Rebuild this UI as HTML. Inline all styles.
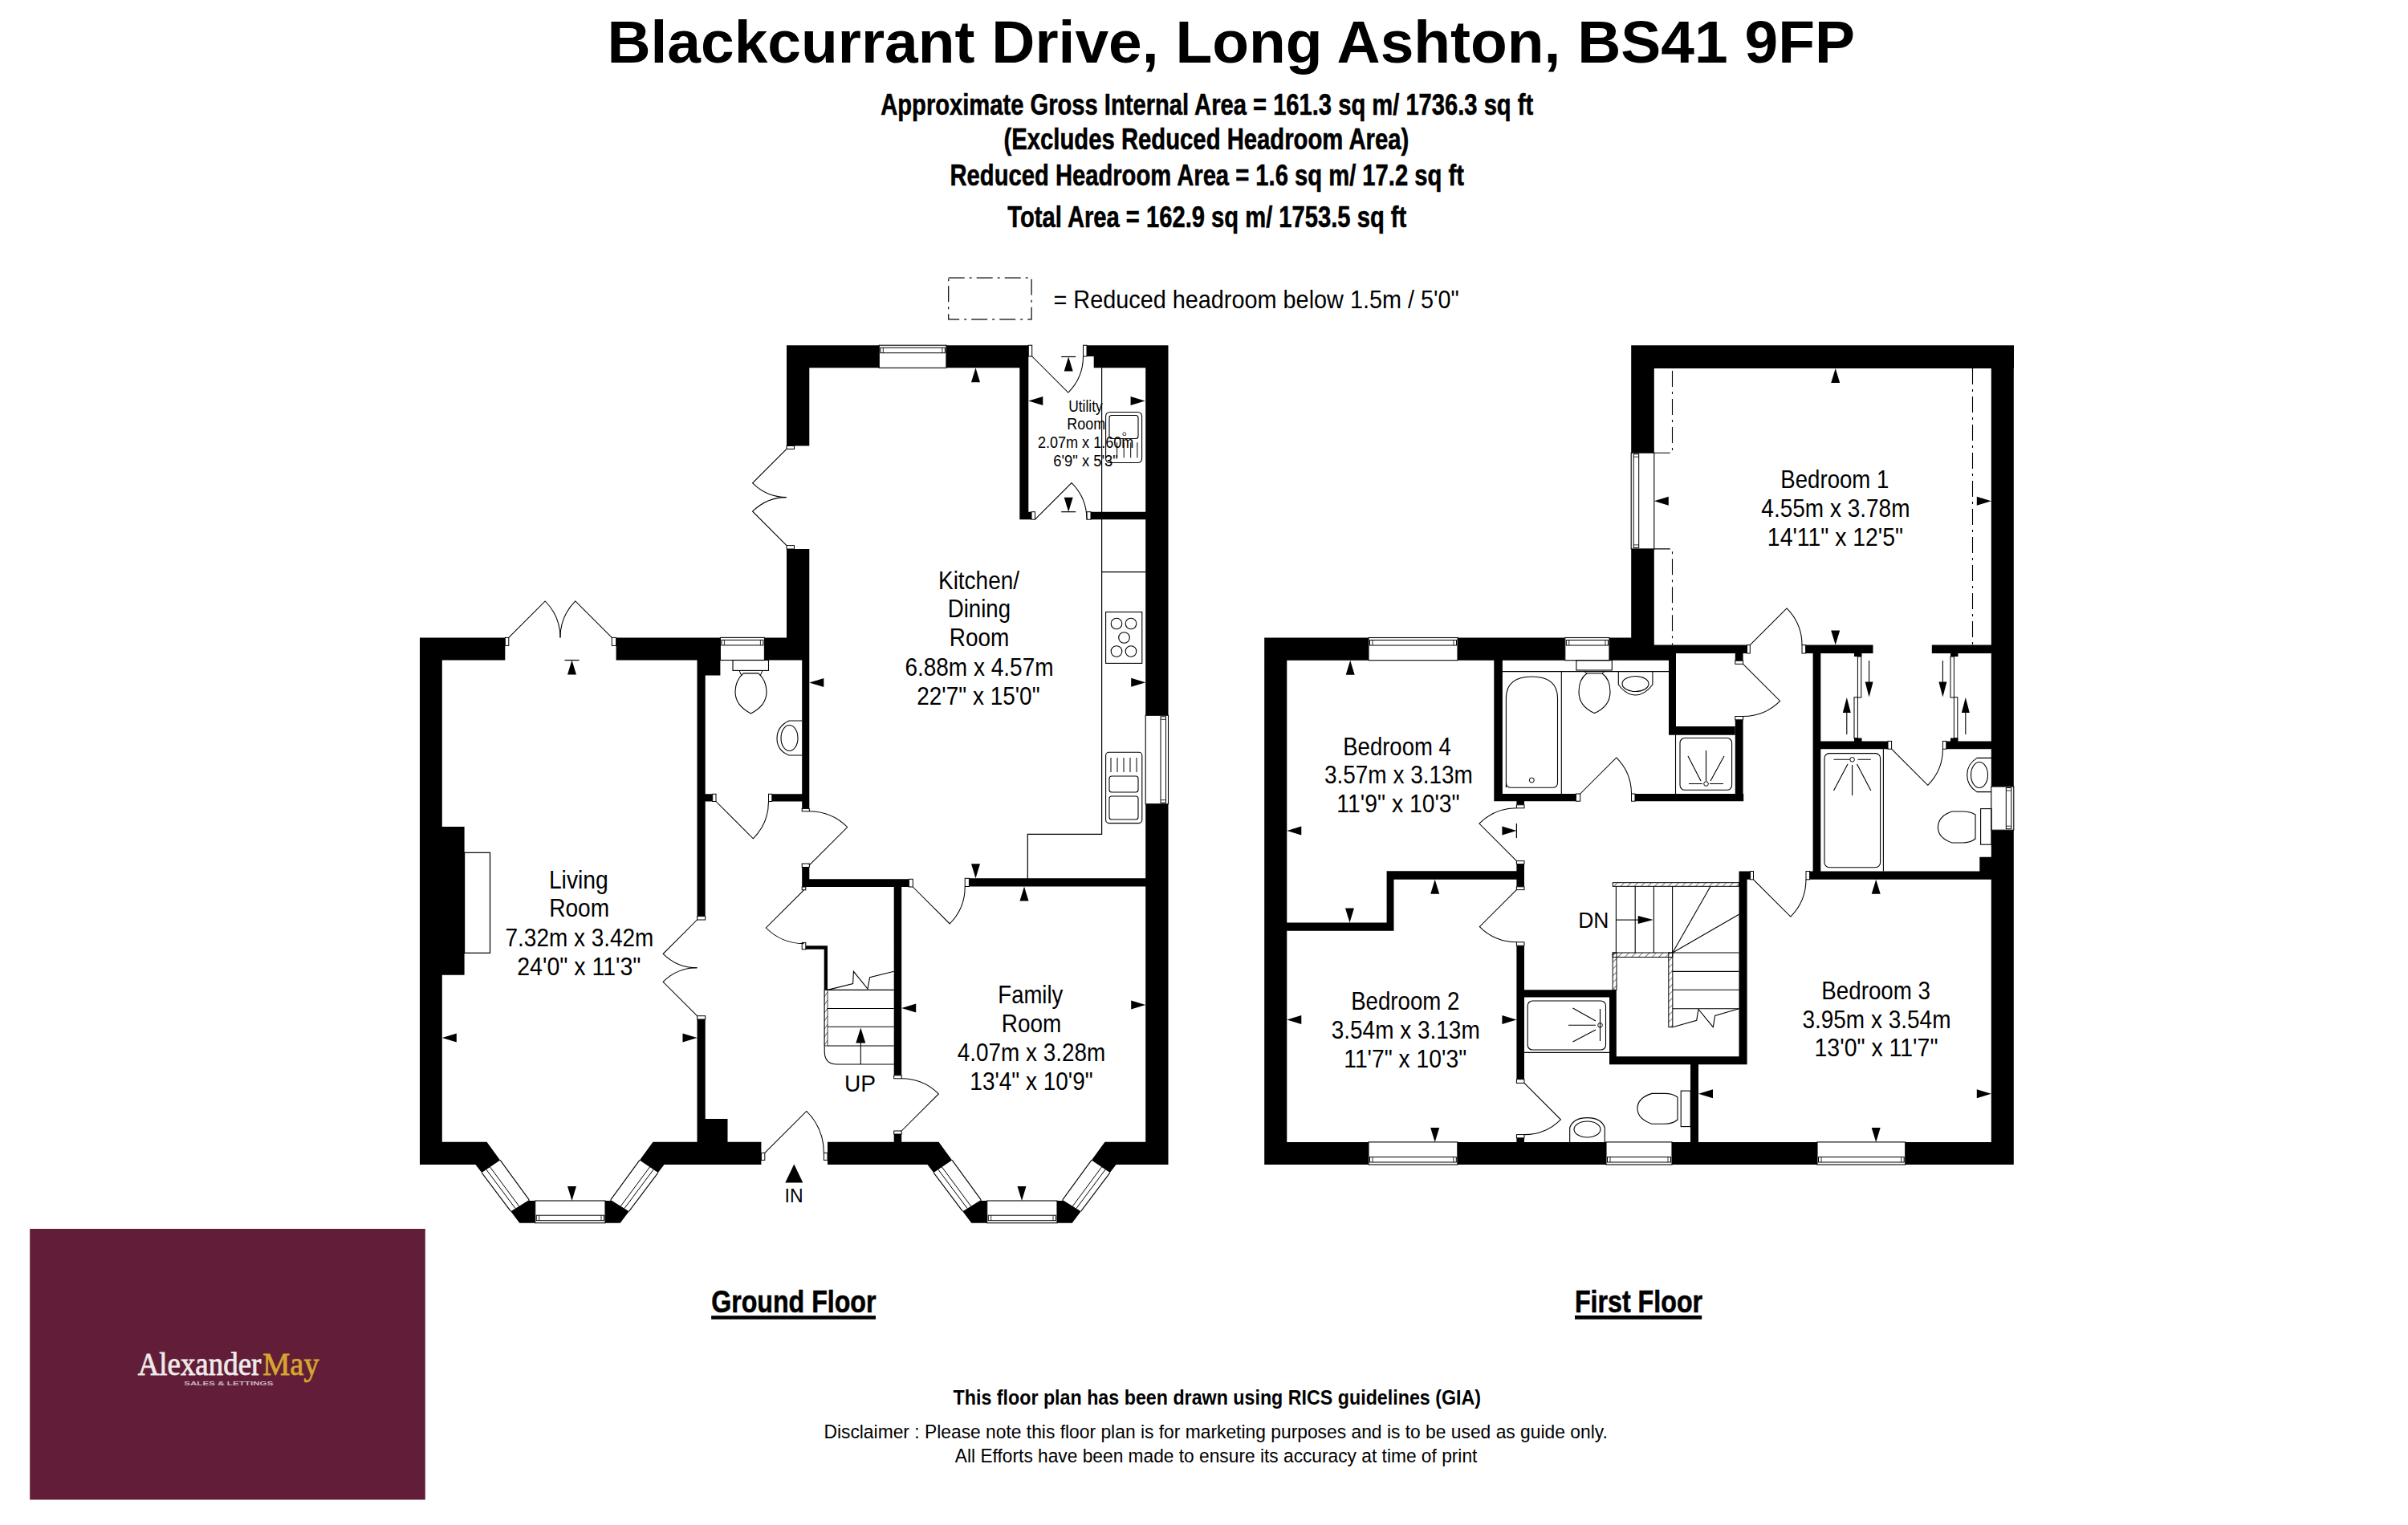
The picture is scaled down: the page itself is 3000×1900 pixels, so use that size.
<!DOCTYPE html>
<html><head><meta charset="utf-8"><style>
html,body{margin:0;padding:0;background:#fff;}
svg{display:block;}
</style></head><body>
<svg width="3000" height="1900" viewBox="0 0 3000 1900">
<rect width="3000" height="1900" fill="#fff"/>
<path fill="#000" d="M980.00,430.20H1095.30V458.30H980.00ZM1178.90,430.20H1281.30V458.30H1178.90ZM980.00,430.20H1008.30V555.50H980.00ZM980.00,684.00H1008.30V822.50H980.00ZM999.20,822.50H1008.30V1007.40H999.20ZM1270.30,444.00H1281.30V647.20H1270.30ZM1270.30,637.70H1285.00V647.20H1270.30ZM1354.00,430.20H1362.70V444.00H1354.00ZM1362.70,430.20H1455.50V458.30H1362.70ZM1427.20,430.20H1455.50V891.30H1427.20ZM1427.20,1001.70H1455.50V1450.90H1427.20ZM1359.00,637.70H1427.20V647.20H1359.00ZM523.00,794.40H629.30V822.50H523.00ZM767.60,794.40H897.40V822.50H767.60ZM952.40,794.40H1008.30V822.50H952.40ZM523.00,794.40H550.80V1450.90H523.00ZM550.80,1030.00H578.60V1214.80H550.80ZM868.50,822.50H878.70V1141.60H868.50ZM868.50,822.50H897.40V841.50H868.50ZM868.50,1270.00H878.70V1450.90H868.50ZM878.70,1394.00H906.50V1450.90H878.70ZM878.70,989.30H887.70V998.50H878.70ZM961.80,989.30H1008.30V998.50H961.80ZM999.20,1080.50H1008.30V1105.00H999.20ZM999.20,1095.30H1132.40V1105.00H999.20ZM1207.40,1094.30H1455.50V1104.50H1207.40ZM1113.70,1104.50H1123.20V1339.80H1113.70ZM1113.70,1413.00H1123.20V1450.90H1113.70ZM1004.00,1178.30H1031.00V1182.80H1004.00ZM1026.70,1178.30H1031.00V1233.40H1026.70ZM523.00,1422.70L606.50,1422.70L592.50,1450.90L523.00,1450.90ZM813.50,1422.70L948.40,1422.70L948.40,1450.90L827.50,1450.90ZM606.50,1422.70L623.09,1445.42L600.17,1461.09L592.50,1450.90ZM659.20,1494.90L660.00,1496.00L666.70,1496.00L666.70,1523.70L647.30,1523.70L636.34,1509.14ZM827.50,1450.90L819.83,1461.09L796.91,1445.42L813.50,1422.70ZM783.66,1509.14L772.70,1523.70L753.30,1523.70L753.30,1496.00L760.00,1496.00L760.80,1494.90ZM660.00,1496.00L666.70,1496.00L666.70,1523.70L647.30,1523.70ZM772.70,1523.70L754.00,1523.70L754.00,1496.00L760.00,1496.00ZM1031.00,1422.70L1169.50,1422.70L1155.50,1450.90L1031.00,1450.90ZM1376.50,1422.70L1455.50,1422.70L1455.50,1450.90L1390.50,1450.90ZM1169.50,1422.70L1186.09,1445.42L1163.17,1461.09L1155.50,1450.90ZM1222.20,1494.90L1223.00,1496.00L1229.70,1496.00L1229.70,1523.70L1210.30,1523.70L1199.34,1509.14ZM1390.50,1450.90L1382.83,1461.09L1359.91,1445.42L1376.50,1422.70ZM1346.66,1509.14L1335.70,1523.70L1316.30,1523.70L1316.30,1496.00L1323.00,1496.00L1323.80,1494.90ZM1223.00,1496.00L1229.70,1496.00L1229.70,1523.70L1210.30,1523.70ZM1335.70,1523.70L1317.00,1523.70L1317.00,1496.00L1323.00,1496.00ZM1078.30,1299.60L1066.30,1299.60L1072.30,1280.60ZM1221.00,476.30L1210.00,476.30L1215.50,458.30ZM1008.30,850.50L1026.30,845.00L1026.30,856.00ZM1409.20,855.80L1409.20,844.80L1427.20,850.30ZM1215.50,1094.30L1210.00,1076.30L1221.00,1076.30ZM1281.50,1122.50L1270.50,1122.50L1276.00,1104.50ZM1123.20,1256.00L1141.20,1250.50L1141.20,1261.50ZM1409.20,1257.50L1409.20,1246.50L1427.20,1252.00ZM1273.00,1496.00L1267.50,1478.00L1278.50,1478.00ZM718.00,840.50L707.00,840.50L712.50,822.50ZM712.50,1496.00L707.00,1478.00L718.00,1478.00ZM550.80,1293.00L568.80,1287.50L568.80,1298.50ZM850.50,1298.50L850.50,1287.50L868.50,1293.00ZM1336.70,462.50L1325.70,462.50L1331.20,444.50ZM1331.20,637.70L1325.70,619.70L1336.70,619.70ZM1281.30,499.60L1299.30,494.10L1299.30,505.10ZM1408.60,505.10L1408.60,494.10L1426.60,499.60ZM1000.30,1473.50L978.30,1473.50L989.30,1450.50ZM2032.20,430.20H2509.00V459.00H2032.20ZM2032.20,430.20H2060.80V564.20H2032.20ZM2032.20,683.90H2060.80V822.70H2032.20ZM2480.80,430.20H2508.80V980.00H2480.80ZM2480.80,1034.20H2508.80V1451.00H2480.80ZM2060.80,803.60H2176.50V814.00H2060.80ZM2249.60,803.60H2333.50V814.00H2249.60ZM2406.80,803.60H2481.00V814.00H2406.80ZM1575.20,794.50H1705.00V822.70H1575.20ZM1816.00,794.50H1949.80V822.70H1816.00ZM2005.00,794.50H2060.80V822.70H2005.00ZM2060.80,803.60H2088.00V822.70H2060.80ZM1575.20,794.50H1603.30V1451.00H1575.20ZM1861.30,822.70H1871.90V998.20H1861.30ZM1861.30,989.00H1963.40V998.20H1861.30ZM2037.00,989.00H2172.20V998.20H2037.00ZM2079.00,803.60H2088.00V915.70H2079.00ZM2079.00,904.90H2161.60V915.70H2079.00ZM2161.80,803.60H2171.60V823.20H2161.80ZM2161.80,896.80H2171.60V998.20H2161.80ZM1889.40,998.00H1899.00V1002.80H1889.40ZM1889.40,1076.60H1899.00V1104.80H1889.40ZM1889.40,1178.20H1899.00V1344.70H1889.40ZM1889.40,1417.80H1899.00V1451.00H1889.40ZM1603.30,1149.60H1736.50V1159.80H1603.30ZM1727.60,1085.20H1736.50V1159.80H1727.60ZM1727.60,1085.20H1889.40V1095.70H1727.60ZM1575.20,1422.90H1705.00V1451.00H1575.20ZM1815.80,1422.90H2001.00V1451.00H1815.80ZM2083.00,1422.90H2264.00V1451.00H2083.00ZM2373.70,1422.90H2508.80V1451.00H2373.70ZM1899.00,1233.30H2013.80V1242.50H1899.00ZM2005.00,1233.30H2013.80V1326.20H2005.00ZM2005.00,1316.20H2176.60V1326.20H2005.00ZM2166.50,1085.50H2176.60V1326.20H2166.50ZM2166.50,1085.50H2180.60V1095.80H2166.50ZM2254.60,1085.50H2481.00V1095.80H2254.60ZM2106.00,1326.20H2116.00V1423.00H2106.00ZM2258.60,814.00H2268.30V1095.00H2258.60ZM2268.30,923.40H2352.00V933.20H2268.30ZM2424.80,923.40H2481.00V933.20H2424.80ZM2466.30,1067.80H2481.00V1085.50H2466.30ZM2040.70,1151.10L2040.70,1141.10L2059.70,1146.10ZM2310.00,814.00H2319.50V818.00H2310.00ZM2310.00,919.40H2319.50V923.40H2310.00ZM2430.00,814.00H2439.50V818.00H2430.00ZM2430.00,919.40H2439.50V923.40H2430.00ZM2328.60,868.50L2323.60,849.50L2333.60,849.50ZM2305.80,888.00L2295.80,888.00L2300.80,869.00ZM2420.40,868.50L2415.40,849.50L2425.40,849.50ZM2453.80,888.00L2443.80,888.00L2448.80,869.00ZM2292.20,477.00L2281.20,477.00L2286.70,459.00ZM2286.70,803.60L2281.20,785.60L2292.20,785.60ZM2060.80,624.30L2078.80,618.80L2078.80,629.80ZM2462.80,629.80L2462.80,618.80L2480.80,624.30ZM1687.70,840.70L1676.70,840.70L1682.20,822.70ZM1681.50,1149.60L1676.00,1131.60L1687.00,1131.60ZM1603.30,1035.00L1621.30,1029.50L1621.30,1040.50ZM1871.40,1040.50L1871.40,1029.50L1889.40,1035.00ZM1793.20,1113.70L1782.20,1113.70L1787.70,1095.70ZM1787.70,1422.90L1782.20,1404.90L1793.20,1404.90ZM1603.30,1270.60L1621.30,1265.10L1621.30,1276.10ZM1871.40,1276.10L1871.40,1265.10L1889.40,1270.60ZM2342.70,1113.80L2331.70,1113.80L2337.20,1095.80ZM2337.20,1423.00L2331.70,1405.00L2342.70,1405.00ZM2116.00,1362.70L2134.00,1357.20L2134.00,1368.20ZM2462.80,1368.20L2462.80,1357.20L2480.80,1362.70ZM886.10,1639.20H1091.00V1643.70H886.10ZM1962.00,1639.10H2120.20V1643.80H1962.00Z"/>
<text x="756.40" y="77.80" font-family="Liberation Sans" font-size="74" font-weight="bold" fill="#000" textLength="1554.56" lengthAdjust="spacingAndGlyphs">Blackcurrant Drive, Long Ashton, BS41 9FP</text>
<text x="1097.28" y="143.00" font-family="Liberation Sans" font-size="37.5" font-weight="bold" fill="#000" stroke="#000" stroke-width="0.6" textLength="812.88" lengthAdjust="spacingAndGlyphs">Approximate Gross Internal Area = 161.3 sq m/ 1736.3 sq ft</text>
<text x="1250.55" y="186.40" font-family="Liberation Sans" font-size="37.5" font-weight="bold" fill="#000" stroke="#000" stroke-width="0.6" textLength="504.71" lengthAdjust="spacingAndGlyphs">(Excludes Reduced Headroom Area)</text>
<text x="1183.55" y="231.20" font-family="Liberation Sans" font-size="37.5" font-weight="bold" fill="#000" stroke="#000" stroke-width="0.6" textLength="640.30" lengthAdjust="spacingAndGlyphs">Reduced Headroom Area = 1.6 sq m/ 17.2 sq ft</text>
<text x="1255.37" y="283.20" font-family="Liberation Sans" font-size="37.5" font-weight="bold" fill="#000" stroke="#000" stroke-width="0.6" textLength="496.88" lengthAdjust="spacingAndGlyphs">Total Area = 162.9 sq m/ 1753.5 sq ft</text>
<rect x="1181.7" y="346.1" width="103.4" height="51.7" fill="none" stroke="#000" stroke-width="1.2" stroke-dasharray="20,6,3,6"/>
<text x="1312.49" y="384.20" font-family="Liberation Sans" font-size="32" fill="#000" textLength="505.33" lengthAdjust="spacingAndGlyphs">= Reduced headroom below 1.5m / 5'0&quot;</text>
<rect x="1095.3" y="430.2" width="83.6" height="28.1" fill="#fff" stroke="#000" stroke-width="1.1"/>
<rect x="1096.8" y="433.2" width="80.6" height="6.5" fill="none" stroke="#000" stroke-width="1"/>
<path d="M1100.3,433.2 V439.7 M1173.9,433.2 V439.7" stroke="#000" stroke-width="0.8"/>
<rect x="1281.3" y="430.2" width="4.4" height="13.8" fill="#fff" stroke="#000" stroke-width="1"/>
<rect x="980.0" y="555.5" width="9.5" height="3.9" fill="#fff" stroke="#000" stroke-width="1"/>
<rect x="980.0" y="679.6" width="9.5" height="4.4" fill="#fff" stroke="#000" stroke-width="1"/>
<rect x="999.2" y="1007.4" width="9.1" height="3.4" fill="#fff" stroke="#000" stroke-width="1"/>
<rect x="1285.0" y="637.7" width="4.5" height="9.5" fill="#fff" stroke="#000" stroke-width="1"/>
<rect x="1349.5" y="430.2" width="4.5" height="13.8" fill="#fff" stroke="#000" stroke-width="1"/>
<rect x="1427.2" y="891.3" width="28.3" height="110.4" fill="#fff" stroke="#000" stroke-width="1.1"/>
<rect x="1446.0" y="892.8" width="6.5" height="107.4" fill="none" stroke="#000" stroke-width="1"/>
<path d="M1446.0,896.3 H1452.5 M1446.0,996.7 H1452.5" stroke="#000" stroke-width="0.8"/>
<rect x="1354.0" y="637.7" width="5.0" height="9.5" fill="#fff" stroke="#000" stroke-width="1"/>
<path d="M1372.6,458.3 L1372.6,1039.4 L1280.3,1039.4 L1280.3,1095.5" fill="none" stroke="#000" stroke-width="1.2"/>
<path d="M1372.6,712.7 L1427.2,712.7" fill="none" stroke="#000" stroke-width="1.2"/>
<rect x="629.3" y="794.4" width="4.5" height="10.0" fill="#fff" stroke="#000" stroke-width="1"/>
<rect x="762.3" y="794.4" width="5.3" height="10.0" fill="#fff" stroke="#000" stroke-width="1"/>
<rect x="897.4" y="794.4" width="55.0" height="28.1" fill="#fff" stroke="#000" stroke-width="1.1"/>
<rect x="898.9" y="797.4" width="52.0" height="6.5" fill="none" stroke="#000" stroke-width="1"/>
<path d="M902.4,797.4 V803.9 M947.4,797.4 V803.9" stroke="#000" stroke-width="0.8"/>
<rect x="578.6" y="1062.3" width="31.9" height="125" fill="none" stroke="#000" stroke-width="1.2"/>
<rect x="868.5" y="1141.6" width="10.2" height="4.4" fill="#fff" stroke="#000" stroke-width="1"/>
<rect x="868.5" y="1265.7" width="10.2" height="4.3" fill="#fff" stroke="#000" stroke-width="1"/>
<rect x="887.7" y="989.3" width="4.3" height="9.2" fill="#fff" stroke="#000" stroke-width="1"/>
<rect x="957.5" y="989.3" width="4.3" height="9.2" fill="#fff" stroke="#000" stroke-width="1"/>
<rect x="999.2" y="1076.0" width="9.1" height="4.5" fill="#fff" stroke="#000" stroke-width="1"/>
<rect x="1132.4" y="1095.3" width="4.9" height="9.7" fill="#fff" stroke="#000" stroke-width="1"/>
<rect x="1202.2" y="1094.3" width="5.2" height="10.2" fill="#fff" stroke="#000" stroke-width="1"/>
<rect x="1113.7" y="1339.8" width="9.5" height="4.0" fill="#fff" stroke="#000" stroke-width="1"/>
<rect x="1113.7" y="1409.0" width="9.5" height="4.0" fill="#fff" stroke="#000" stroke-width="1"/>
<rect x="999.2" y="1174.4" width="4.6" height="8.4" fill="#fff" stroke="#000" stroke-width="1"/>
<rect x="999.2" y="1105.0" width="4.6" height="3.8" fill="#fff" stroke="#000" stroke-width="1"/>
<path d="M623.1,1445.4 L659.2,1494.9" fill="none" stroke="#000" stroke-width="1.1"/>
<path d="M600.2,1461.1 L636.3,1509.1" fill="none" stroke="#000" stroke-width="1.1"/>
<path d="M605.9,1457.2 L642.1,1505.6" fill="none" stroke="#000" stroke-width="1.0"/>
<path d="M610.5,1454.0 L646.6,1502.7" fill="none" stroke="#000" stroke-width="1.0"/>
<path d="M796.9,1445.4 L760.8,1494.9" fill="none" stroke="#000" stroke-width="1.1"/>
<path d="M819.8,1461.1 L783.7,1509.1" fill="none" stroke="#000" stroke-width="1.1"/>
<path d="M814.1,1457.2 L777.9,1505.6" fill="none" stroke="#000" stroke-width="1.0"/>
<path d="M809.5,1454.0 L773.4,1502.7" fill="none" stroke="#000" stroke-width="1.0"/>
<rect x="666.7" y="1496.0" width="87.3" height="27.7" fill="#fff" stroke="#000" stroke-width="1.1"/>
<rect x="668.2" y="1514.2" width="84.3" height="6.5" fill="none" stroke="#000" stroke-width="1"/>
<path d="M671.7,1514.2 V1520.7 M749.0,1514.2 V1520.7" stroke="#000" stroke-width="0.8"/>
<rect x="948.4" y="1436.4" width="4.4" height="9.0" fill="#fff" stroke="#000" stroke-width="1"/>
<rect x="1026.4" y="1436.4" width="4.6" height="9.0" fill="#fff" stroke="#000" stroke-width="1"/>
<path d="M1186.1,1445.4 L1222.2,1494.9" fill="none" stroke="#000" stroke-width="1.1"/>
<path d="M1163.2,1461.1 L1199.3,1509.1" fill="none" stroke="#000" stroke-width="1.1"/>
<path d="M1168.9,1457.2 L1205.1,1505.6" fill="none" stroke="#000" stroke-width="1.0"/>
<path d="M1173.5,1454.0 L1209.6,1502.7" fill="none" stroke="#000" stroke-width="1.0"/>
<path d="M1359.9,1445.4 L1323.8,1494.9" fill="none" stroke="#000" stroke-width="1.1"/>
<path d="M1382.8,1461.1 L1346.7,1509.1" fill="none" stroke="#000" stroke-width="1.1"/>
<path d="M1377.1,1457.2 L1340.9,1505.6" fill="none" stroke="#000" stroke-width="1.0"/>
<path d="M1372.5,1454.0 L1336.4,1502.7" fill="none" stroke="#000" stroke-width="1.0"/>
<rect x="1229.7" y="1496.0" width="87.3" height="27.7" fill="#fff" stroke="#000" stroke-width="1.1"/>
<rect x="1231.2" y="1514.2" width="84.3" height="6.5" fill="none" stroke="#000" stroke-width="1"/>
<path d="M1234.7,1514.2 V1520.7 M1312.0,1514.2 V1520.7" stroke="#000" stroke-width="0.8"/>
<path d="M980.0,559.4 L937.6,601.8 A60.0,60.0 0 0 0 980.0,619.4" fill="none" stroke="#000" stroke-width="1.05"/>
<path d="M980.0,679.6 L937.6,637.2 A60.0,60.0 0 0 1 980.0,619.6" fill="none" stroke="#000" stroke-width="1.05"/>
<path d="M1285.7,444.0 L1330.8,489.1 A63.8,63.8 0 0 0 1349.5,444.0" fill="none" stroke="#000" stroke-width="1.05"/>
<path d="M1289.5,647.2 L1335.1,601.6 A64.5,64.5 0 0 1 1354.0,647.2" fill="none" stroke="#000" stroke-width="1.05"/>
<path d="M633.8,794.4 L679.2,749.0 A64.2,64.2 0 0 1 698.0,794.4" fill="none" stroke="#000" stroke-width="1.05"/>
<path d="M762.3,794.4 L716.8,748.9 A64.3,64.3 0 0 0 698.0,794.4" fill="none" stroke="#000" stroke-width="1.05"/>
<path d="M892.0,998.5 L938.3,1044.8 A65.5,65.5 0 0 0 957.5,998.5" fill="none" stroke="#000" stroke-width="1.05"/>
<path d="M1008.3,1077.9 L1055.7,1030.5 A67.1,67.1 0 0 0 1008.3,1010.8" fill="none" stroke="#000" stroke-width="1.05"/>
<path d="M1001.5,1108.8 L954.3,1156.0 A66.8,66.8 0 0 0 1001.5,1175.6" fill="none" stroke="#000" stroke-width="1.05"/>
<path d="M1137.3,1105.0 L1183.2,1150.9 A64.9,64.9 0 0 0 1202.2,1105.0" fill="none" stroke="#000" stroke-width="1.05"/>
<path d="M868.5,1146.0 L826.2,1188.3 A59.8,59.8 0 0 0 868.5,1205.8" fill="none" stroke="#000" stroke-width="1.05"/>
<path d="M868.5,1265.7 L826.1,1223.3 A59.9,59.9 0 0 1 868.5,1205.8" fill="none" stroke="#000" stroke-width="1.05"/>
<path d="M1123.2,1409.0 L1169.3,1362.9 A65.2,65.2 0 0 0 1123.2,1343.8" fill="none" stroke="#000" stroke-width="1.05"/>
<path d="M952.8,1436.4 L1004.8,1384.4 A73.6,73.6 0 0 1 1026.4,1436.4" fill="none" stroke="#000" stroke-width="1.05"/>
<path d="M1031.0,1233.4 L1113.7,1233.4" fill="none" stroke="#000" stroke-width="1.1"/>
<path d="M1031.0,1256.5 L1113.7,1256.5" fill="none" stroke="#000" stroke-width="1.1"/>
<path d="M1031.0,1279.3 L1113.7,1279.3" fill="none" stroke="#000" stroke-width="1.1"/>
<path d="M1031.0,1303.0 L1113.7,1303.0" fill="none" stroke="#000" stroke-width="1.1"/>
<path d="M1027.2,1233.4 V1310 Q1027.2,1326 1043,1326 H1113.7" fill="none" stroke="#000" stroke-width="1.1"/>
<rect x="1027.2" y="1233.4" width="3.8" height="69.6" fill="#fff" stroke="#000" stroke-width="0.8"/>
<path d="M1027.2,1242.0 L1031.0,1236.0" fill="none" stroke="#000" stroke-width="0.6"/>
<path d="M1027.2,1252.0 L1031.0,1246.0" fill="none" stroke="#000" stroke-width="0.6"/>
<path d="M1027.2,1262.0 L1031.0,1256.0" fill="none" stroke="#000" stroke-width="0.6"/>
<path d="M1027.2,1272.0 L1031.0,1266.0" fill="none" stroke="#000" stroke-width="0.6"/>
<path d="M1027.2,1282.0 L1031.0,1276.0" fill="none" stroke="#000" stroke-width="0.6"/>
<path d="M1027.2,1292.0 L1031.0,1286.0" fill="none" stroke="#000" stroke-width="0.6"/>
<path d="M1027.2,1302.0 L1031.0,1296.0" fill="none" stroke="#000" stroke-width="0.6"/>
<path d="M1072.3,1326.0 L1072.3,1296.0" fill="none" stroke="#000" stroke-width="1.1"/>
<path d="M1031.0,1233.4 L1062.6,1225.5 L1063.4,1210.3 L1081.0,1232.0 L1083.6,1217.7 L1113.7,1210.3" fill="none" stroke="#000" stroke-width="1.1"/>
<rect x="913" y="822.5" width="44.5" height="12.9" fill="none" stroke="#000" stroke-width="1.1"/>
<path d="M921,835.4 L924,842 M950,835.4 L947,842" fill="none" stroke="#000" stroke-width="1"/>
<path d="M926,838.9 H945 Q955,848 955,862 Q955,879 935.5,888.9 Q916,879 916,862 Q916,848 926,838.9 Z" fill="none" stroke="#000" stroke-width="1.1"/>
<path d="M999,898 H983 Q968,905 968,920 Q968,935 983,941 H999" fill="none" stroke="#000" stroke-width="1.1"/>
<ellipse cx="983.5" cy="919.5" rx="10.5" ry="16" fill="none" stroke="#000" stroke-width="1.1"/>
<rect x="1377.6" y="762.5" width="45.2" height="63.9" fill="none" stroke="#000" stroke-width="1.1"/>
<circle cx="1391" cy="777" r="6.8" fill="none" stroke="#000" stroke-width="1.1"/>
<circle cx="1409" cy="777" r="6.8" fill="none" stroke="#000" stroke-width="1.1"/>
<circle cx="1400.5" cy="794.5" r="6.8" fill="none" stroke="#000" stroke-width="1.1"/>
<circle cx="1391" cy="811.5" r="6.8" fill="none" stroke="#000" stroke-width="1.1"/>
<circle cx="1409" cy="811.5" r="6.8" fill="none" stroke="#000" stroke-width="1.1"/>
<rect x="1377.6" y="937.2" width="45.2" height="88.4" rx="4" fill="none" stroke="#000" stroke-width="1.1"/>
<path d="M1384.0,944.0 L1384.0,962.0" fill="none" stroke="#000" stroke-width="1.0"/>
<path d="M1392.0,944.0 L1392.0,962.0" fill="none" stroke="#000" stroke-width="1.0"/>
<path d="M1400.0,944.0 L1400.0,962.0" fill="none" stroke="#000" stroke-width="1.0"/>
<path d="M1408.0,944.0 L1408.0,962.0" fill="none" stroke="#000" stroke-width="1.0"/>
<path d="M1416.0,944.0 L1416.0,962.0" fill="none" stroke="#000" stroke-width="1.0"/>
<rect x="1382" y="967" width="36" height="20" rx="3" fill="none" stroke="#000" stroke-width="1.1"/>
<rect x="1382" y="992" width="36" height="29" rx="3" fill="none" stroke="#000" stroke-width="1.1"/>
<rect x="1377.6" y="513.5" width="45" height="63" rx="5" fill="none" stroke="#000" stroke-width="1.1"/>
<rect x="1382" y="517.5" width="36" height="29" rx="3" fill="none" stroke="#000" stroke-width="1.1"/>
<path d="M1391.6,551.3 L1391.6,570.3" fill="none" stroke="#000" stroke-width="1.0"/>
<path d="M1400.2,551.3 L1400.2,570.3" fill="none" stroke="#000" stroke-width="1.0"/>
<path d="M1408.7,551.3 L1408.7,570.3" fill="none" stroke="#000" stroke-width="1.0"/>
<path d="M1416.9,551.3 L1416.9,570.3" fill="none" stroke="#000" stroke-width="1.0"/>
<circle cx="1400.8" cy="540.8" r="2" fill="none" stroke="#000" stroke-width="0.8"/>
<path d="M703.5,822.5 L721.5,822.5" fill="none" stroke="#000" stroke-width="1.2"/>
<path d="M1322.2,444.5 L1340.2,444.5" fill="none" stroke="#000" stroke-width="1.2"/>
<path d="M1322.2,637.7 L1340.2,637.7" fill="none" stroke="#000" stroke-width="1.2"/>
<text x="683.88" y="1107.20" font-family="Liberation Sans" font-size="32" fill="#000" textLength="73.95" lengthAdjust="spacingAndGlyphs">Living</text>
<text x="684.19" y="1142.40" font-family="Liberation Sans" font-size="32" fill="#000" textLength="74.96" lengthAdjust="spacingAndGlyphs">Room</text>
<text x="629.57" y="1178.90" font-family="Liberation Sans" font-size="32" fill="#000" textLength="184.77" lengthAdjust="spacingAndGlyphs">7.32m x 3.42m</text>
<text x="644.29" y="1214.60" font-family="Liberation Sans" font-size="32" fill="#000" textLength="154.11" lengthAdjust="spacingAndGlyphs">24'0&quot; x 11'3&quot;</text>
<text x="1169.01" y="734.00" font-family="Liberation Sans" font-size="32" fill="#000" textLength="100.99" lengthAdjust="spacingAndGlyphs">Kitchen/</text>
<text x="1180.74" y="769.40" font-family="Liberation Sans" font-size="32" fill="#000" textLength="78.24" lengthAdjust="spacingAndGlyphs">Dining</text>
<text x="1182.70" y="804.80" font-family="Liberation Sans" font-size="32" fill="#000" textLength="74.64" lengthAdjust="spacingAndGlyphs">Room</text>
<text x="1127.38" y="841.60" font-family="Liberation Sans" font-size="32" fill="#000" textLength="185.17" lengthAdjust="spacingAndGlyphs">6.88m x 4.57m</text>
<text x="1142.29" y="877.50" font-family="Liberation Sans" font-size="32" fill="#000" textLength="153.29" lengthAdjust="spacingAndGlyphs">22'7&quot; x 15'0&quot;</text>
<text x="1243.34" y="1249.90" font-family="Liberation Sans" font-size="32" fill="#000" textLength="81.01" lengthAdjust="spacingAndGlyphs">Family</text>
<text x="1247.71" y="1286.40" font-family="Liberation Sans" font-size="32" fill="#000" textLength="74.53" lengthAdjust="spacingAndGlyphs">Room</text>
<text x="1192.76" y="1322.00" font-family="Liberation Sans" font-size="32" fill="#000" textLength="184.38" lengthAdjust="spacingAndGlyphs">4.07m x 3.28m</text>
<text x="1208.37" y="1358.30" font-family="Liberation Sans" font-size="32" fill="#000" textLength="153.32" lengthAdjust="spacingAndGlyphs">13'4&quot; x 10'9&quot;</text>
<text x="1331.26" y="513.40" font-family="Liberation Sans" font-size="20" fill="#000" textLength="42.47" lengthAdjust="spacingAndGlyphs">Utility</text>
<text x="1329.33" y="535.40" font-family="Liberation Sans" font-size="20" fill="#000" textLength="47.85" lengthAdjust="spacingAndGlyphs">Room</text>
<text x="1292.89" y="558.00" font-family="Liberation Sans" font-size="20" fill="#000" textLength="119.50" lengthAdjust="spacingAndGlyphs">2.07m x 1.60m</text>
<text x="1312.37" y="580.50" font-family="Liberation Sans" font-size="20" fill="#000" textLength="80.42" lengthAdjust="spacingAndGlyphs">6'9&quot; x 5'3&quot;</text>
<text x="1052.03" y="1360.00" font-family="Liberation Sans" font-size="29.5" fill="#000" textLength="39.05" lengthAdjust="spacingAndGlyphs">UP</text>
<text x="977.58" y="1497.70" font-family="Liberation Sans" font-size="24" fill="#000" textLength="23.00" lengthAdjust="spacingAndGlyphs">IN</text>
<rect x="2032.2" y="564.2" width="28.6" height="119.7" fill="#fff" stroke="#000" stroke-width="1.1"/>
<rect x="2035.2" y="565.7" width="6.5" height="116.7" fill="none" stroke="#000" stroke-width="1"/>
<path d="M2035.2,569.2 H2041.7 M2035.2,678.9 H2041.7" stroke="#000" stroke-width="0.8"/>
<rect x="2480.8" y="980.0" width="28.0" height="54.2" fill="#fff" stroke="#000" stroke-width="1.1"/>
<rect x="2499.3" y="981.5" width="6.5" height="51.2" fill="none" stroke="#000" stroke-width="1"/>
<path d="M2499.3,985.0 H2505.8 M2499.3,1029.2 H2505.8" stroke="#000" stroke-width="0.8"/>
<rect x="2176.5" y="803.6" width="3.8" height="10.4" fill="#fff" stroke="#000" stroke-width="1"/>
<rect x="2245.0" y="803.6" width="4.6" height="10.4" fill="#fff" stroke="#000" stroke-width="1"/>
<path d="M2060.8,564.2 H2083.5 V459 M2060.8,683.9 H2083.5 V803.6 M2457.5,459 V803.6" fill="none" stroke="#000" stroke-width="1.1" stroke-dasharray="20,6,3,6"/>
<rect x="1705.0" y="794.5" width="111.0" height="28.2" fill="#fff" stroke="#000" stroke-width="1.1"/>
<rect x="1706.5" y="797.5" width="108.0" height="6.5" fill="none" stroke="#000" stroke-width="1"/>
<path d="M1710.0,797.5 V804.0 M1811.0,797.5 V804.0" stroke="#000" stroke-width="0.8"/>
<rect x="1949.8" y="794.5" width="55.2" height="28.2" fill="#fff" stroke="#000" stroke-width="1.1"/>
<rect x="1951.3" y="797.5" width="52.2" height="6.5" fill="none" stroke="#000" stroke-width="1"/>
<path d="M1954.8,797.5 V804.0 M2000.0,797.5 V804.0" stroke="#000" stroke-width="0.8"/>
<rect x="1963.4" y="989.0" width="5.3" height="9.2" fill="#fff" stroke="#000" stroke-width="1"/>
<rect x="2032.5" y="989.0" width="4.5" height="9.2" fill="#fff" stroke="#000" stroke-width="1"/>
<rect x="2161.8" y="823.2" width="9.8" height="4.1" fill="#fff" stroke="#000" stroke-width="1"/>
<rect x="2161.8" y="892.5" width="9.8" height="4.3" fill="#fff" stroke="#000" stroke-width="1"/>
<rect x="1889.4" y="1002.8" width="9.6" height="4.0" fill="#fff" stroke="#000" stroke-width="1"/>
<rect x="1889.4" y="1072.6" width="9.6" height="4.0" fill="#fff" stroke="#000" stroke-width="1"/>
<rect x="1889.4" y="1104.8" width="9.6" height="3.8" fill="#fff" stroke="#000" stroke-width="1"/>
<rect x="1889.4" y="1173.8" width="9.6" height="4.4" fill="#fff" stroke="#000" stroke-width="1"/>
<rect x="1889.4" y="1344.7" width="9.6" height="4.7" fill="#fff" stroke="#000" stroke-width="1"/>
<rect x="1889.4" y="1413.6" width="9.6" height="4.2" fill="#fff" stroke="#000" stroke-width="1"/>
<rect x="1705.0" y="1422.9" width="110.8" height="28.1" fill="#fff" stroke="#000" stroke-width="1.1"/>
<rect x="1706.5" y="1441.5" width="107.8" height="6.5" fill="none" stroke="#000" stroke-width="1"/>
<path d="M1710.0,1441.5 V1448.0 M1810.8,1441.5 V1448.0" stroke="#000" stroke-width="0.8"/>
<rect x="2001.0" y="1422.9" width="82.0" height="28.1" fill="#fff" stroke="#000" stroke-width="1.1"/>
<rect x="2002.5" y="1441.5" width="79.0" height="6.5" fill="none" stroke="#000" stroke-width="1"/>
<path d="M2006.0,1441.5 V1448.0 M2078.0,1441.5 V1448.0" stroke="#000" stroke-width="0.8"/>
<rect x="2264.0" y="1422.9" width="109.7" height="28.1" fill="#fff" stroke="#000" stroke-width="1.1"/>
<rect x="2265.5" y="1441.5" width="106.7" height="6.5" fill="none" stroke="#000" stroke-width="1"/>
<path d="M2269.0,1441.5 V1448.0 M2368.7,1441.5 V1448.0" stroke="#000" stroke-width="0.8"/>
<rect x="2180.6" y="1085.5" width="3.9" height="10.3" fill="#fff" stroke="#000" stroke-width="1"/>
<rect x="2250.0" y="1085.5" width="4.6" height="10.3" fill="#fff" stroke="#000" stroke-width="1"/>
<rect x="2352.0" y="923.4" width="4.6" height="9.8" fill="#fff" stroke="#000" stroke-width="1"/>
<rect x="2420.4" y="923.4" width="4.4" height="9.8" fill="#fff" stroke="#000" stroke-width="1"/>
<path d="M1889.4,1072.6 L1842.9,1026.1 A65.8,65.8 0 0 1 1889.4,1006.8" fill="none" stroke="#000" stroke-width="1.05"/>
<path d="M1968.7,989.0 L2013.8,943.9 A63.8,63.8 0 0 1 2032.5,989.0" fill="none" stroke="#000" stroke-width="1.05"/>
<path d="M1889.4,1108.6 L1843.3,1154.7 A65.2,65.2 0 0 0 1889.4,1173.8" fill="none" stroke="#000" stroke-width="1.05"/>
<path d="M1899.0,1349.4 L1944.4,1394.8 A64.2,64.2 0 0 1 1899.0,1413.6" fill="none" stroke="#000" stroke-width="1.05"/>
<path d="M2184.5,1095.8 L2230.8,1142.1 A65.5,65.5 0 0 0 2250.0,1095.8" fill="none" stroke="#000" stroke-width="1.05"/>
<path d="M2180.3,803.6 L2226.0,757.9 A64.7,64.7 0 0 1 2245.0,803.6" fill="none" stroke="#000" stroke-width="1.05"/>
<path d="M2171.6,827.3 L2217.7,873.4 A65.2,65.2 0 0 1 2171.6,892.5" fill="none" stroke="#000" stroke-width="1.05"/>
<path d="M2356.6,933.2 L2401.7,978.3 A63.8,63.8 0 0 0 2420.4,933.2" fill="none" stroke="#000" stroke-width="1.05"/>
<defs><pattern id="hatch" width="6" height="6" patternUnits="userSpaceOnUse" patternTransform="rotate(45)"><line x1="0" y1="0" x2="0" y2="6" stroke="#000" stroke-width="1"/></pattern></defs>
<rect x="2009.2" y="1099.7" width="157.3" height="4.6" fill="url(#hatch)" stroke="#000" stroke-width="1"/>
<rect x="2009.2" y="1187" width="74.6" height="5.5" fill="url(#hatch)" stroke="#000" stroke-width="1"/>
<rect x="2009.2" y="1187" width="4.8" height="46.3" fill="url(#hatch)" stroke="#000" stroke-width="1"/>
<rect x="2078.8" y="1187" width="5" height="92.7" fill="url(#hatch)" stroke="#000" stroke-width="1"/>
<path d="M2013.4,1104.3 L2013.4,1187.0" fill="none" stroke="#000" stroke-width="1.1"/>
<path d="M2037.2,1104.3 L2037.2,1187.0" fill="none" stroke="#000" stroke-width="1.1"/>
<path d="M2060.4,1104.3 L2060.4,1187.0" fill="none" stroke="#000" stroke-width="1.1"/>
<path d="M2083.6,1104.3 L2083.6,1187.0" fill="none" stroke="#000" stroke-width="1.1"/>
<path d="M2083.8,1187.0 L2131.0,1104.3" fill="none" stroke="#000" stroke-width="1.1"/>
<path d="M2083.8,1187.0 L2166.5,1139.2" fill="none" stroke="#000" stroke-width="1.1"/>
<path d="M2083.8,1187.0 L2166.5,1187.0" fill="none" stroke="#000" stroke-width="1.1"/>
<path d="M2083.8,1210.4 L2166.5,1210.4" fill="none" stroke="#000" stroke-width="1.1"/>
<path d="M2083.8,1233.3 L2166.5,1233.3" fill="none" stroke="#000" stroke-width="1.1"/>
<path d="M2083.8,1256.8 L2166.5,1256.8" fill="none" stroke="#000" stroke-width="1.1"/>
<path d="M2083.8,1279.7 L2113.7,1271.2 L2116.0,1257.5 L2134.3,1279.7 L2136.6,1265.5 L2166.5,1256.8" fill="none" stroke="#000" stroke-width="1.1"/>
<path d="M2013.4,1146.1 L2043.0,1146.1" fill="none" stroke="#000" stroke-width="1.1"/>
<text x="1966.23" y="1155.70" font-family="Liberation Sans" font-size="27" fill="#000" textLength="38.23" lengthAdjust="spacingAndGlyphs">DN</text>
<path d="M1871.9,836.6 L2079.0,836.6" fill="none" stroke="#000" stroke-width="1.1"/>
<path d="M1945.3,836.6 L1945.3,989.0" fill="none" stroke="#000" stroke-width="1.1"/>
<path d="M1876.4,981.3 V870 Q1876.4,843 1908.5,843 Q1940.5,843 1940.5,870 V975 Q1940.5,981.3 1934,981.3 H1883 Q1876.4,981.3 1876.4,975 Z" fill="none" stroke="#000" stroke-width="1.1"/>
<circle cx="1908.3" cy="972" r="3" fill="none" stroke="#000" stroke-width="1"/>
<rect x="1963.9" y="822.7" width="44.4" height="12.3" fill="none" stroke="#000" stroke-width="1.1"/>
<path d="M1977,839 H1996 Q2006,846 2006,862 Q2006,880 1986.5,888.6 Q1967,880 1967,862 Q1967,846 1977,839 Z" fill="none" stroke="#000" stroke-width="1.1"/>
<path d="M1973,836 L1977,839 M2000,836 L1996,839" stroke="#000" stroke-width="1"/>
<path d="M2016.3,836.6 V853 Q2026,866 2037.5,866 Q2049,866 2058.9,853 V836.6" fill="none" stroke="#000" stroke-width="1.1"/>
<ellipse cx="2037.5" cy="852" rx="16.5" ry="9.5" fill="none" stroke="#000" stroke-width="1.1"/>
<path d="M2087.5,915.7 L2087.5,989.0" fill="none" stroke="#000" stroke-width="1.1"/>
<rect x="2093" y="919.5" width="64.6" height="64.8" rx="6" fill="none" stroke="#000" stroke-width="1.1"/>
<path d="M2125.5,935 V973 M2103,942 L2119,973 M2148,942 L2131,973 M2104,976.5 H2121 M2130,976.5 H2147" stroke="#000" stroke-width="1.1"/>
<circle cx="2125.5" cy="976.5" r="2.8" fill="none" stroke="#000" stroke-width="1"/>
<path d="M2346.4,933.2 L2346.4,1085.5" fill="none" stroke="#000" stroke-width="1.1"/>
<rect x="2273" y="938.6" width="69.6" height="142.1" rx="6" fill="none" stroke="#000" stroke-width="1.1"/>
<path d="M2284.5,946.3 H2305 M2314.5,946.3 H2330.8 M2307.6,953 V991 M2302,952 L2284.5,985 M2313.5,952 L2330.8,985" stroke="#000" stroke-width="1.1"/>
<circle cx="2307.6" cy="946.3" r="2.8" fill="none" stroke="#000" stroke-width="1"/>
<path d="M2481,944.4 H2463 Q2450.7,952 2450.7,965.5 Q2450.7,979 2463,986.6 H2481" fill="none" stroke="#000" stroke-width="1.1"/>
<ellipse cx="2466" cy="965.5" rx="10.5" ry="16" fill="none" stroke="#000" stroke-width="1.1"/>
<rect x="2467.6" y="1007.6" width="13.4" height="44.6" fill="none" stroke="#000" stroke-width="1.1"/>
<path d="M2461,1015 V1045 Q2455,1050 2445,1050 H2432 Q2414.4,1044 2414.4,1030.5 Q2414.4,1017 2432,1011 H2445 Q2455,1011 2461,1015 Z" fill="none" stroke="#000" stroke-width="1.1"/>
<rect x="2314.4" y="818" width="4.4" height="51" fill="none" stroke="#000" stroke-width="1"/>
<rect x="2310" y="868.7" width="4.4" height="51" fill="none" stroke="#000" stroke-width="1"/>
<rect x="2430" y="818" width="4.4" height="51" fill="none" stroke="#000" stroke-width="1"/>
<rect x="2434.4" y="868.7" width="4.4" height="51" fill="none" stroke="#000" stroke-width="1"/>
<path d="M2328.6,823.0 L2328.6,850.0" fill="none" stroke="#000" stroke-width="1.1"/>
<path d="M2300.8,915.0 L2300.8,888.0" fill="none" stroke="#000" stroke-width="1.1"/>
<path d="M2420.4,823.0 L2420.4,850.0" fill="none" stroke="#000" stroke-width="1.1"/>
<path d="M2448.8,915.0 L2448.8,888.0" fill="none" stroke="#000" stroke-width="1.1"/>
<path d="M1899.0,1311.4 L2005.0,1311.4" fill="none" stroke="#000" stroke-width="1.1"/>
<rect x="1903.2" y="1247" width="97.3" height="61" rx="6" fill="none" stroke="#000" stroke-width="1.1"/>
<path d="M1993.5,1257 V1297 M1954,1277.3 H1988 M1959.5,1256 L1988,1272 M1959.5,1298 L1988,1283" stroke="#000" stroke-width="1.1"/>
<circle cx="1993.5" cy="1277.3" r="2.8" fill="none" stroke="#000" stroke-width="1"/>
<rect x="2094.2" y="1359.1" width="12" height="44.5" fill="none" stroke="#000" stroke-width="1.1"/>
<path d="M2090,1367 V1395 Q2084,1400.3 2074,1400.3 H2058 Q2040,1394 2040,1381 Q2040,1368 2058,1362.4 H2074 Q2084,1362.4 2090,1367 Z" fill="none" stroke="#000" stroke-width="1.1"/>
<path d="M1955.7,1422.9 V1405 Q1960,1392.6 1977.5,1392.6 Q1995,1392.6 1999.3,1405 V1422.9" fill="none" stroke="#000" stroke-width="1.1"/>
<ellipse cx="1977.5" cy="1407" rx="16.5" ry="10" fill="none" stroke="#000" stroke-width="1.1"/>
<path d="M1889.4,1026.0 L1889.4,1044.0" fill="none" stroke="#000" stroke-width="1.2"/>
<text x="2218.34" y="607.80" font-family="Liberation Sans" font-size="32" fill="#000" textLength="135.01" lengthAdjust="spacingAndGlyphs">Bedroom 1</text>
<text x="2194.36" y="644.20" font-family="Liberation Sans" font-size="32" fill="#000" textLength="185.09" lengthAdjust="spacingAndGlyphs">4.55m x 3.78m</text>
<text x="2201.87" y="680.00" font-family="Liberation Sans" font-size="32" fill="#000" textLength="169.22" lengthAdjust="spacingAndGlyphs">14'11&quot; x 12'5&quot;</text>
<text x="1673.24" y="940.60" font-family="Liberation Sans" font-size="32" fill="#000" textLength="134.56" lengthAdjust="spacingAndGlyphs">Bedroom 4</text>
<text x="1649.94" y="975.60" font-family="Liberation Sans" font-size="32" fill="#000" textLength="184.91" lengthAdjust="spacingAndGlyphs">3.57m x 3.13m</text>
<text x="1665.37" y="1012.00" font-family="Liberation Sans" font-size="32" fill="#000" textLength="153.32" lengthAdjust="spacingAndGlyphs">11'9&quot; x 10'3&quot;</text>
<text x="1683.13" y="1257.80" font-family="Liberation Sans" font-size="32" fill="#000" textLength="135.26" lengthAdjust="spacingAndGlyphs">Bedroom 2</text>
<text x="1658.73" y="1294.40" font-family="Liberation Sans" font-size="32" fill="#000" textLength="185.01" lengthAdjust="spacingAndGlyphs">3.54m x 3.13m</text>
<text x="1674.28" y="1330.20" font-family="Liberation Sans" font-size="32" fill="#000" textLength="152.91" lengthAdjust="spacingAndGlyphs">11'7&quot; x 10'3&quot;</text>
<text x="2269.32" y="1245.00" font-family="Liberation Sans" font-size="32" fill="#000" textLength="135.69" lengthAdjust="spacingAndGlyphs">Bedroom 3</text>
<text x="2245.43" y="1280.50" font-family="Liberation Sans" font-size="32" fill="#000" textLength="185.01" lengthAdjust="spacingAndGlyphs">3.95m x 3.54m</text>
<text x="2260.56" y="1316.00" font-family="Liberation Sans" font-size="32" fill="#000" textLength="153.93" lengthAdjust="spacingAndGlyphs">13'0&quot; x 11'7&quot;</text>
<text x="886.18" y="1634.80" font-family="Liberation Sans" font-size="39" font-weight="bold" fill="#000" stroke="#000" stroke-width="0.6" textLength="205.30" lengthAdjust="spacingAndGlyphs">Ground Floor</text>
<text x="1961.95" y="1634.80" font-family="Liberation Sans" font-size="39" font-weight="bold" fill="#000" stroke="#000" stroke-width="0.6" textLength="159.14" lengthAdjust="spacingAndGlyphs">First Floor</text>
<text x="1187.54" y="1749.50" font-family="Liberation Sans" font-size="26.5" font-weight="bold" fill="#000" textLength="657.52" lengthAdjust="spacingAndGlyphs">This floor plan has been drawn using RICS guidelines (GIA)</text>
<text x="1026.43" y="1791.60" font-family="Liberation Sans" font-size="24.5" fill="#000" textLength="976.35" lengthAdjust="spacingAndGlyphs">Disclaimer : Please note this floor plan is for marketing purposes and is to be used as guide only.</text>
<text x="1189.86" y="1821.70" font-family="Liberation Sans" font-size="24.5" fill="#000" textLength="650.51" lengthAdjust="spacingAndGlyphs">All Efforts have been made to ensure its accuracy at time of print</text>
<rect x="37.2" y="1531.0" width="492.6" height="337.5" fill="#621e38"/>
<g stroke-width="0.7">
<text x="171.64" y="1712.50" font-family="Liberation Serif" font-size="39" fill="#eeeaea" stroke="#eeeaea" stroke-width="0.8" textLength="153.68" lengthAdjust="spacingAndGlyphs">Alexander</text>
<text x="327.30" y="1712.50" font-family="Liberation Serif" font-size="39" fill="#d4a530" stroke="#d4a530" stroke-width="0.8" textLength="70.25" lengthAdjust="spacingAndGlyphs">May</text>
</g>
<text x="229.16" y="1726.00" font-family="Liberation Sans" font-size="7" font-weight="bold" fill="#cbb8c0" textLength="111.29" lengthAdjust="spacingAndGlyphs">SALES &amp; LETTINGS</text>
</svg>
</body></html>
